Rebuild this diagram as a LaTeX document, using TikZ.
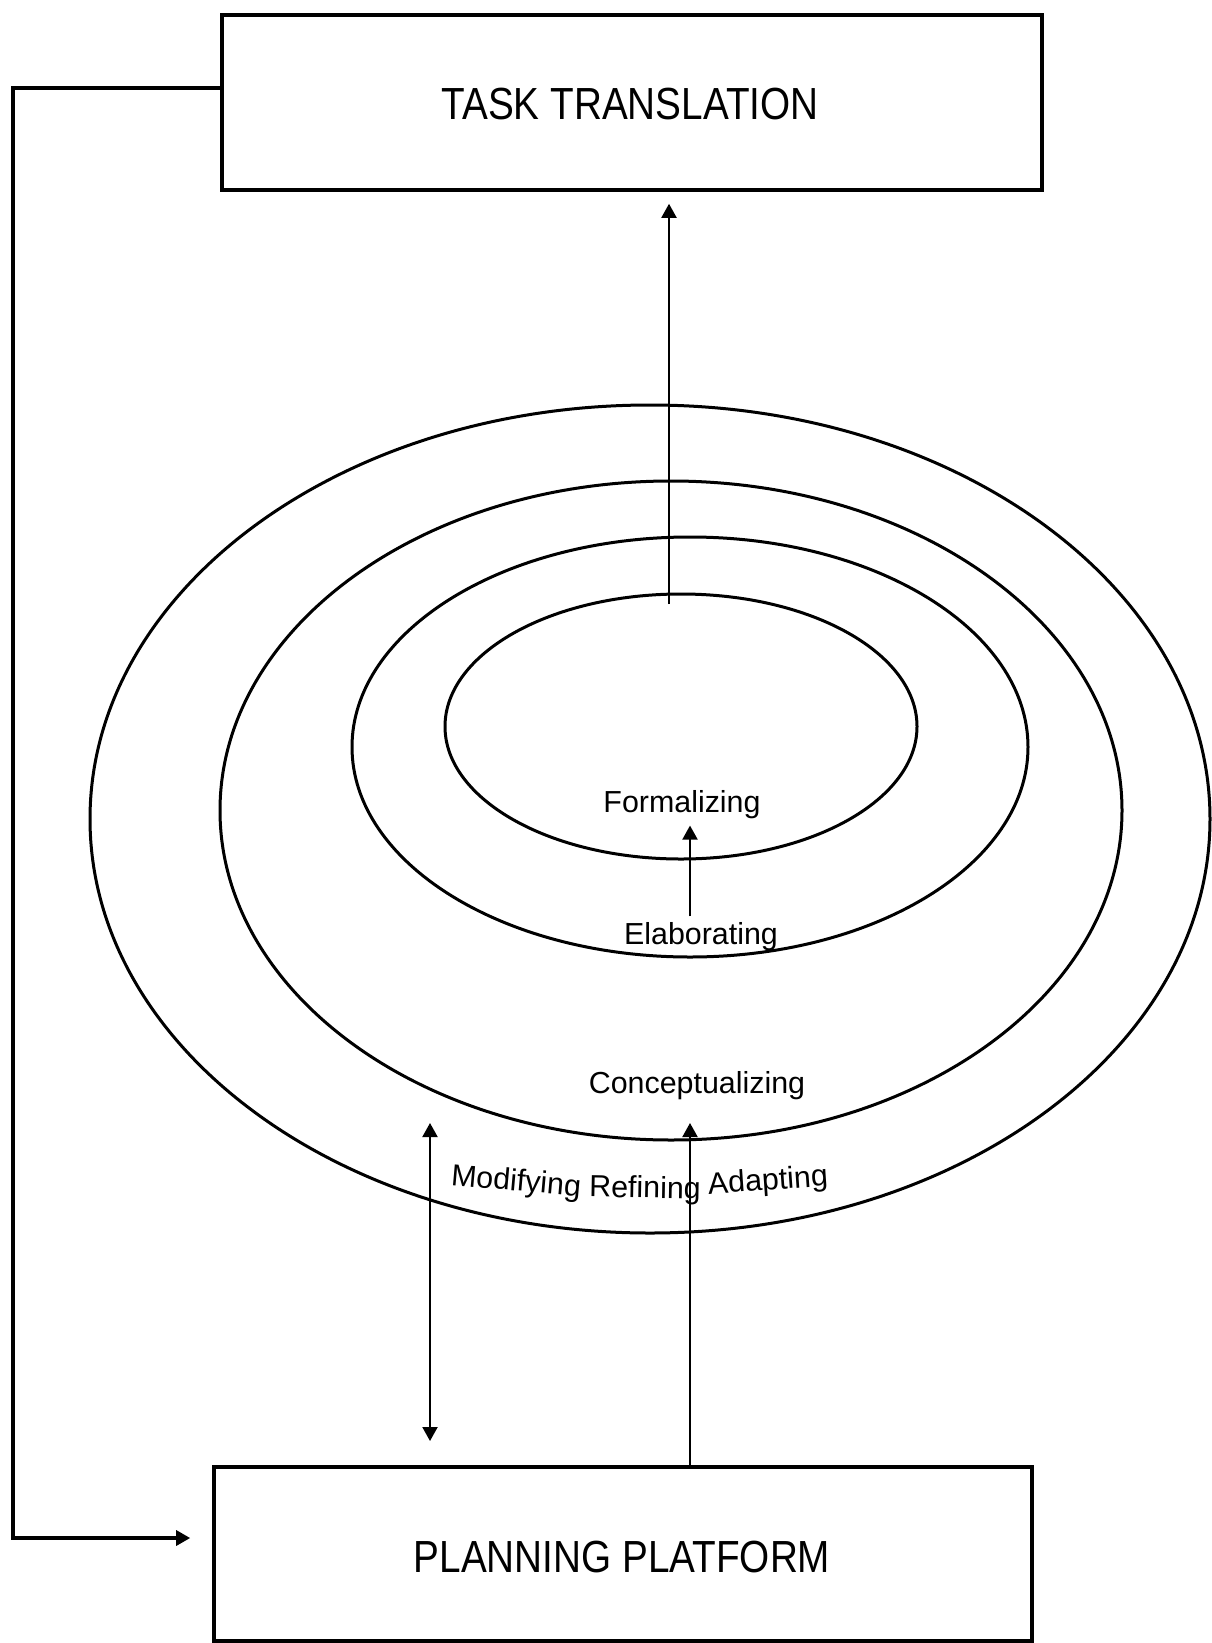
\documentclass[tikz,border=0pt]{standalone}
\usepackage{fontspec}
\setmainfont{Liberation Sans}
\newfontfamily\boxfont[FakeStretch=0.86]{Liberation Sans}
\usetikzlibrary{arrows.meta}
\tikzset{
  box/.style={draw, line width=1.8pt, inner sep=0pt},
  boxtext/.style={font=\boxfont\fontsize{22.5}{26}\selectfont},
  lbl/.style={font=\fontsize{15.2}{18}\selectfont, inner sep=1pt},
  ring/.style={line width=1.5pt},
  arr/.style={line width=1pt, -{Triangle[width=7.5pt,length=7pt]}},
  darr/.style={line width=1pt, {Triangle[width=7.5pt,length=7pt]}-{Triangle[width=7.5pt,length=7pt]}},
  fb/.style={line width=1.6pt, -{Triangle[width=7.5pt,length=7pt]}}
}
\begin{document}
\begin{tikzpicture}[x=0.5pt, y=-0.5pt]
\useasboundingbox (0,0) rectangle (1211,1643);

% boxes
\node[box, minimum width=410pt, minimum height=87.5pt] (tt) at (632,102.5) {};
\node[boxtext] (ttl) at (630,104) {TASK TRANSLATION};
\node[box, minimum width=409pt, minimum height=87pt] (pp) at (623,1554) {};
\node[boxtext] (ppl) at (622,1557) {PLANNING PLATFORM};

% ellipses
\draw[ring] (650,819) ellipse [x radius=280pt, y radius=207pt];
\draw[ring] (671,810.5) ellipse [x radius=225.5pt, y radius=164.75pt];
\draw[ring] (690,747) ellipse [x radius=169pt, y radius=105pt];
\draw[ring] (681,726.5) ellipse [x radius=118pt, y radius=66.25pt];

% labels
\node[lbl] (fo) at (682,805) {Formalizing};
\node[lbl] (el) at (701,937) {Elaborating};
\node[lbl] (co) at (697,1086) {Conceptualizing};
\node[lbl, rotate=-5] (mo) at (516,1183) {Modifying};
\node[lbl, rotate=-1] (re) at (645,1190) {Refining};
\node[lbl, rotate=4] (ad) at (768,1182) {Adapting};

% coordinates
\coordinate (c1) at (669,604);
\coordinate (c2) at (690,1123);
\coordinate (c3) at (430,1123);
\coordinate (c4) at (430,1441);
\coordinate (fbA) at (13,88);
\coordinate (fbB) at (13,1538);

% arrows
\draw[arr, shorten >=6pt] (c1) -- (c1 |- tt.south);
\draw[arr] ([xshift=-5.5pt,yshift=2pt]el.north) -- ([xshift=4pt,yshift=-2pt]fo.south);
\draw[arr] (pp.north -| c2) -- (c2);
\draw[darr] (c3) -- (c4);
\draw[fb, shorten >=11pt] (tt.west |- fbA) -- (fbA) -- (fbB) -- (pp.west |- fbB);
\end{tikzpicture}
\end{document}
